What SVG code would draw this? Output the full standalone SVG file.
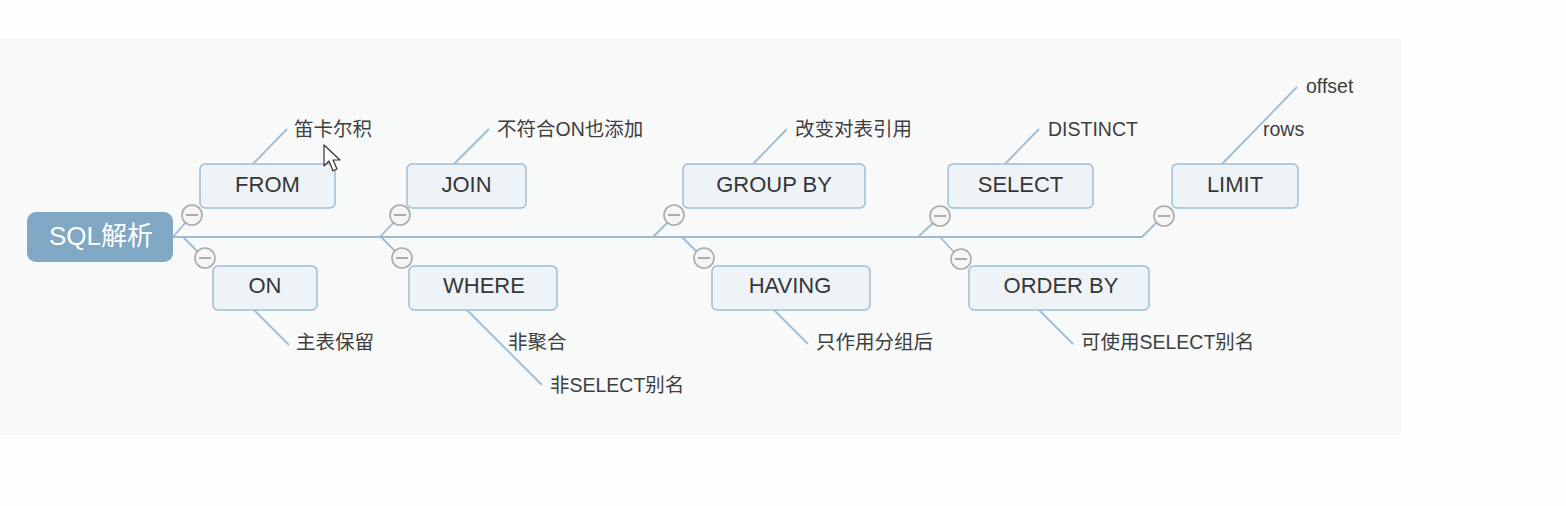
<svg xmlns="http://www.w3.org/2000/svg" width="1566" height="506" viewBox="0 0 1566 506">
<style>
.node rect{fill:#eef3f8;stroke:#9fbdd6;stroke-width:1.5}
.node text{font-family:"Liberation Sans","Noto Sans CJK SC",sans-serif;font-size:22px;fill:#363636;text-anchor:middle}
.leaf{font-family:"Liberation Sans","Noto Sans CJK SC",sans-serif;font-size:19.5px;fill:#3e3e3e}
.conn line,.conn polyline{stroke:#9dbbd4;stroke-width:1.8;fill:none}
.tog circle{fill:#f5f5f5;stroke:#aaaaaa;stroke-width:1.6}
.tog line{stroke:#999;stroke-width:1.6}
</style>
<rect x="0" y="0" width="1566" height="506" fill="#fdfefe"/>
<rect x="0" y="38" width="1402" height="397" fill="#f8f9f9"/>
<g id="connectors" class="conn">
<polyline points="173,237 1142,237 1160,219"/>
<line x1="173" y1="237" x2="186" y2="222"/>
<line x1="183" y1="237" x2="198" y2="252"/>
<line x1="380" y1="237" x2="394" y2="222"/>
<line x1="381" y1="237" x2="396" y2="252"/>
<line x1="653" y1="237" x2="668" y2="222"/>
<line x1="682" y1="237" x2="697" y2="252"/>
<line x1="918" y1="237" x2="933" y2="223"/>
<line x1="940" y1="237" x2="954" y2="252"/>
<line x1="253" y1="164" x2="287" y2="129"/>
<line x1="454" y1="164" x2="489" y2="129"/>
<line x1="753" y1="164" x2="787" y2="129"/>
<line x1="1005" y1="164" x2="1039" y2="129"/>
<line x1="1222" y1="164" x2="1297" y2="87"/>
<line x1="254" y1="310" x2="289" y2="345"/>
<line x1="467" y1="310" x2="542" y2="385"/>
<line x1="774" y1="310" x2="808" y2="344"/>
<line x1="1039" y1="310" x2="1073" y2="344"/>
</g>
<g id="root">
<rect x="27" y="212" width="146" height="50" rx="9" fill="#80a7c4"/>
<text x="101" y="245" font-family="Liberation Sans,'Noto Sans CJK SC',sans-serif" font-size="26" fill="#ffffff" text-anchor="middle">SQL解析</text>
</g>
<g id="from" class="node"><rect x="200" y="164" width="135" height="44" rx="5"/><text x="267.5" y="192">FROM</text></g>
<g id="join" class="node"><rect x="407" y="164" width="119" height="44" rx="5"/><text x="466.5" y="192">JOIN</text></g>
<g id="groupby" class="node"><rect x="683" y="164" width="182" height="44" rx="5"/><text x="774" y="192">GROUP BY</text></g>
<g id="select" class="node"><rect x="948" y="164" width="145" height="44" rx="5"/><text x="1020.5" y="192">SELECT</text></g>
<g id="limit" class="node"><rect x="1172" y="164" width="126" height="44" rx="5"/><text x="1235" y="192">LIMIT</text></g>
<g id="on" class="node"><rect x="213" y="266" width="104" height="44" rx="5"/><text x="265" y="293">ON</text></g>
<g id="where" class="node"><rect x="409" y="266" width="148" height="44" rx="5"/><text x="484" y="293">WHERE</text></g>
<g id="having" class="node"><rect x="712" y="266" width="158" height="44" rx="5"/><text x="790" y="293">HAVING</text></g>
<g id="orderby" class="node"><rect x="969" y="266" width="180" height="44" rx="5"/><text x="1061" y="293">ORDER BY</text></g>
<g id="toggles" class="tog">
<circle cx="192" cy="215" r="10"/><line x1="186" y1="215" x2="198" y2="215"/>
<circle cx="400" cy="215" r="10"/><line x1="394" y1="215" x2="406" y2="215"/>
<circle cx="674" cy="215" r="10"/><line x1="668" y1="215" x2="680" y2="215"/>
<circle cx="940" cy="216" r="10"/><line x1="934" y1="216" x2="946" y2="216"/>
<circle cx="1164" cy="216" r="10"/><line x1="1158" y1="216" x2="1170" y2="216"/>
<circle cx="205" cy="258" r="10"/><line x1="199" y1="258" x2="211" y2="258"/>
<circle cx="402" cy="258" r="10"/><line x1="396" y1="258" x2="408" y2="258"/>
<circle cx="704" cy="258" r="10"/><line x1="698" y1="258" x2="710" y2="258"/>
<circle cx="961" cy="259" r="10"/><line x1="955" y1="259" x2="967" y2="259"/>
</g>
<g id="leaves">
<text class="leaf" x="294" y="136">笛卡尔积</text>
<text class="leaf" x="497" y="136">不符合ON也添加</text>
<text class="leaf" x="795" y="136">改变对表引用</text>
<text class="leaf" x="1048" y="136">DISTINCT</text>
<text class="leaf" x="1306" y="93">offset</text>
<text class="leaf" x="1263" y="136">rows</text>
<text class="leaf" x="296" y="349">主表保留</text>
<text class="leaf" x="508" y="349">非聚合</text>
<text class="leaf" x="550" y="392">非SELECT别名</text>
<text class="leaf" x="816" y="349">只作用分组后</text>
<text class="leaf" x="1081" y="349">可使用SELECT别名</text>
</g>
<polygon points="324,145 324,166 329,161 333,171 337,169 333,160 340,160" fill="#ffffff" stroke="#333333" stroke-width="1.2" stroke-linejoin="round"/>
</svg>
